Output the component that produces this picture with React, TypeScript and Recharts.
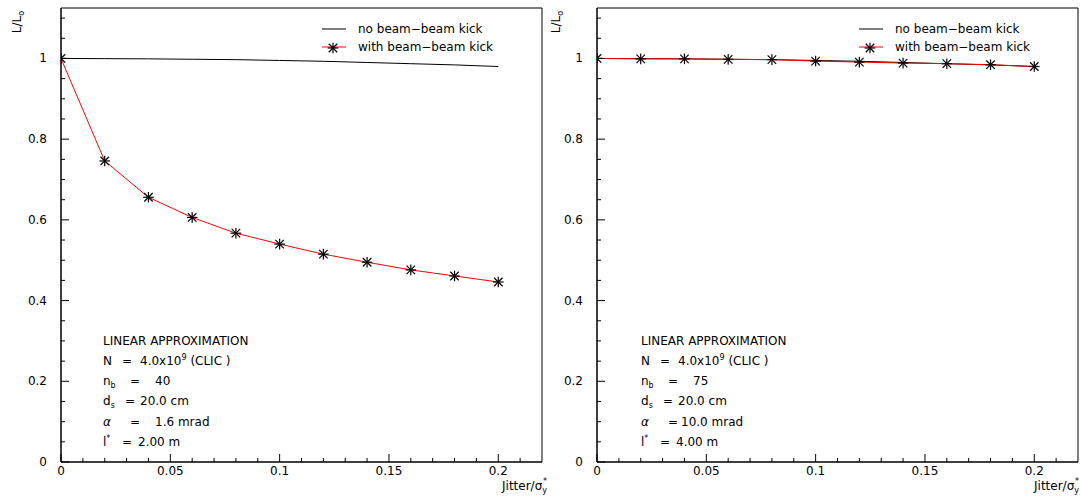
import React from 'react'
import { LineChart, Line, XAxis, YAxis, ReferenceArea } from 'recharts'

// jitter in units of sigma_y*
const jitter = [0, 0.02, 0.04, 0.06, 0.08, 0.1, 0.12, 0.14, 0.16, 0.18, 0.2]

// L/L0, left panel (n_b = 40, alpha = 1.6 mrad)
const noKickLeft = [1.0, 0.9995, 0.999, 0.998, 0.997, 0.995, 0.993, 0.99, 0.987, 0.984, 0.98]
const withKickLeft = [1.0, 0.746, 0.656, 0.606, 0.567, 0.54, 0.515, 0.495, 0.476, 0.461, 0.446]

// L/L0, right panel (n_b = 75, alpha = 10.0 mrad)
const noKickRight = [1.0, 0.9995, 0.999, 0.998, 0.997, 0.995, 0.993, 0.99, 0.987, 0.984, 0.98]
const withKickRight = [1.0, 0.999, 0.999, 0.9978, 0.997, 0.9935, 0.991, 0.9885, 0.987, 0.9845, 0.98]

const xTicks = [0, 0.01, 0.02, 0.03, 0.04, 0.05, 0.06, 0.07, 0.08, 0.09, 0.1, 0.11, 0.12, 0.13, 0.14, 0.15, 0.16, 0.17, 0.18, 0.19, 0.2, 0.21]
const xMajor = [0, 0.05, 0.1, 0.15, 0.2]
const xLabels = ['0', '0.05', '0.1', '0.15', '0.2']

const yTicks = [0, 0.05, 0.1, 0.15, 0.2, 0.25, 0.3, 0.35, 0.4, 0.45, 0.5, 0.55, 0.6, 0.65, 0.7, 0.75, 0.8, 0.85, 0.9, 0.95, 1, 1.05, 1.1]
const yMajor = [0, 0.2, 0.4, 0.6, 0.8, 1]
const yLabels = ['0', '0.2', '0.4', '0.6', '0.8', '1']

const FONT = '"DejaVu Sans", sans-serif'
const FS = 12

const findMajor = (list: number[], v: number) => list.findIndex((m) => Math.abs(m - v) < 1e-6)

const XTick = (props: any) => {
  const { x, y, payload } = props
  const i = findMajor(xMajor, payload.value)
  return (
    <g>
      <line x1={x} x2={x} y1={y} y2={y - (i >= 0 ? 8 : 4)} stroke="#000" />
      {i >= 0 && (
        <text x={x} y={y + 13} textAnchor="middle" fontFamily={FONT} fontSize={FS} fill="#000">
          {xLabels[i]}
        </text>
      )}
    </g>
  )
}

const YTick = (props: any) => {
  const { x, y, payload } = props
  const i = findMajor(yMajor, payload.value)
  return (
    <g>
      <line x1={x} x2={x + (i >= 0 ? 8 : 4)} y1={y} y2={y} stroke="#000" />
      {i >= 0 && (
        <text x={x - 14} y={y + 4} textAnchor="end" fontFamily={FONT} fontSize={FS} fill="#000">
          {yLabels[i]}
        </text>
      )}
    </g>
  )
}

const star = (cx: number, cy: number, r = 5.3) => (
  <g stroke="#000" strokeWidth={1.2}>
    <line x1={cx - r} x2={cx + r} y1={cy} y2={cy} />
    <line x1={cx} x2={cx} y1={cy - r} y2={cy + r} />
    <line x1={cx - r * 0.8} x2={cx + r * 0.8} y1={cy - r * 0.8} y2={cy + r * 0.8} />
    <line x1={cx - r * 0.8} x2={cx + r * 0.8} y1={cy + r * 0.8} y2={cy - r * 0.8} />
  </g>
)

const renderStar = (p: any) => {
  if (p.cx == null || p.cy == null) return <g key={`s-${p.index}`} />
  return <g key={`s-${p.index}`}>{star(p.cx, p.cy)}</g>
}

interface PanelProps {
  left: number
  width: number
  axisWidth: number
  noKick: number[]
  withKick: number[]
}

const Panel: React.FC<PanelProps> = ({ left, width, axisWidth, noKick, withKick }) => {
  const data = jitter.map((x, i) => ({ x, noKick: noKick[i], withKick: withKick[i] }))
  return (
    <div style={{ position: 'absolute', left, top: 0 }}>
      <LineChart width={width} height={500} data={data} margin={{ top: 8, right: 3, left: 0, bottom: 0 }}>
        <XAxis
          dataKey="x"
          type="number"
          domain={[0, 0.22]}
          ticks={xTicks}
          tick={<XTick />}
          tickSize={0}
          tickMargin={0}
          tickLine={false}
          axisLine={{ stroke: '#000' }}
          height={38}
          interval={0}
          allowDataOverflow
        />
        <YAxis
          type="number"
          domain={[0, 1.125]}
          ticks={yTicks}
          tick={<YTick />}
          tickSize={0}
          tickMargin={0}
          tickLine={false}
          axisLine={{ stroke: '#000' }}
          width={axisWidth}
          interval={0}
          allowDataOverflow
        />
        <ReferenceArea x1={0} x2={0.22} y1={0} y2={1.125} fill="none" stroke="#000" strokeWidth={1} />
        <Line dataKey="noKick" stroke="#000" strokeWidth={1} dot={false} isAnimationActive={false} />
        <Line dataKey="withKick" stroke="#ff0000" strokeWidth={1} dot={renderStar} isAnimationActive={false} />
      </LineChart>
    </div>
  )
}

interface NoteProps {
  x: number
  nb: string
  alpha: string
  alphaX: number
  lstar: string
}

const Notes: React.FC<NoteProps> = ({ x, nb, alpha, alphaX, lstar }) => {
  const t = { fontFamily: FONT, fontSize: FS, fill: '#000' }
  return (
    <g {...t}>
      <text x={x} y={345}>LINEAR APPROXIMATION</text>
      <text x={x} y={365}>N</text>
      <text x={x + 19} y={365}>=</text>
      <text x={x + 37} y={365}>
        4.0x10<tspan dy={-5} fontSize={8}>9</tspan>
        <tspan dy={5}> (CLIC )</tspan>
      </text>
      <text x={x} y={385}>
        n<tspan dy={3} fontSize={8}>b</tspan>
      </text>
      <text x={x + 27} y={385}>=</text>
      <text x={x + 52} y={385}>{nb}</text>
      <text x={x} y={405}>
        d<tspan dy={3} fontSize={8}>s</tspan>
      </text>
      <text x={x + 22} y={405}>=</text>
      <text x={x + 37} y={405}>20.0 cm</text>
      <text x={x} y={426} fontStyle="italic">α</text>
      <text x={x + 27} y={426}>=</text>
      <text x={alphaX} y={426}>{alpha}</text>
      <text x={x} y={446}>
        l<tspan dy={-5} fontSize={8}>*</tspan>
      </text>
      <text x={x + 19} y={446}>=</text>
      <text x={x + 35} y={446}>{lstar}</text>
    </g>
  )
}

const Legend: React.FC<{ x: number }> = ({ x }) => (
  <g fontFamily={FONT} fontSize={FS} fill="#000">
    <line x1={x} x2={x + 24} y1={29} y2={29} stroke="#000" />
    <text x={x + 36} y={33}>no beam−beam kick</text>
    <line x1={x} x2={x + 24} y1={47} y2={47} stroke="#ff0000" />
    {star(x + 11, 48)}
    <text x={x + 36} y={51}>with beam−beam kick</text>
  </g>
)

const Titles: React.FC<{ yx: number; xEnd: number }> = ({ yx, xEnd }) => (
  <g fontFamily={FONT} fontSize={FS} fill="#000">
    <text transform={`translate(${yx},22) rotate(-90)`} textAnchor="middle">
      L/L<tspan dy={3} fontSize={8}>o</tspan>
    </text>
    <text x={xEnd} y={490} textAnchor="end">
      Jitter/σ<tspan dy={3} fontSize={8}>y</tspan>
      <tspan dx={-4} dy={-9} fontSize={8}>*</tspan>
    </text>
  </g>
)

const App: React.FC = () => {
  return (
    <div style={{ position: 'absolute', left: 0, top: 0, width: 1081, height: 500, background: '#fff' }}>
      <Panel left={0} width={545} axisWidth={61} noKick={noKickLeft} withKick={withKickLeft} />
      <Panel left={545} width={1081 - 545} axisWidth={52} noKick={noKickRight} withKick={withKickRight} />
      <svg width={1081} height={500} style={{ position: 'absolute', left: 0, top: 0, pointerEvents: 'none' }}>
        <Legend x={322} />
        <Legend x={859} />
        <Notes x={103} nb="40" alpha="1.6 mrad" alphaX={155} lstar="2.00 m" />
        <Notes x={641} nb="75" alpha="10.0 mrad" alphaX={681} lstar="4.00 m" />
        <Titles yx={21} xEnd={547} />
        <Titles yx={560} xEnd={1079} />
      </svg>
    </div>
  )
}

export default App
